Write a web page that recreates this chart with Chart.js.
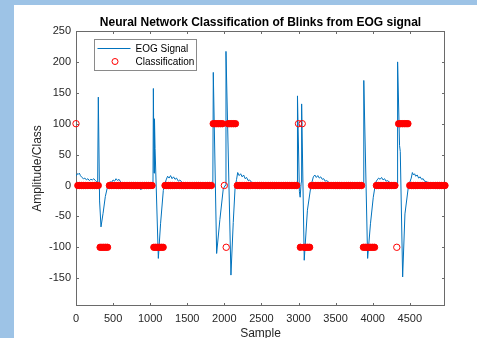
<!DOCTYPE html>
<html><head><meta charset="utf-8">
<script src="https://cdn.jsdelivr.net/npm/chart.js@4/dist/chart.umd.min.js"></script>
<style>
html,body{margin:0;padding:0;background:#9dc3e6;width:477px;height:338px;overflow:hidden}
#wrap{position:absolute;left:14px;top:5px;width:463px;height:333px;background:#fff}
canvas{display:block}
</style></head><body>
<div id="wrap"><canvas id="c" width="463" height="333"></canvas></div>
<script>
const chartTitle = 'Neural Network Classification of Blinks from EOG signal';
const xAxisTitle = 'Sample';
const yAxisTitle = 'Amplitude/Class';
const legendLabels = ['EOG Signal', 'Classification'];
const xTicks = [0, 500, 1000, 1500, 2000, 2500, 3000, 3500, 4000, 4500];
const yTicks = [-150, -100, -50, 0, 50, 100, 150, 200, 250];
const xRange = [0, 4975];
const yRange = [-195, 250];

// EOG signal: sample index and amplitude
const eogSample = [
  0, 15, 30, 45, 60, 80, 100, 120, 140, 160, 180, 200, 220, 240, 260, 280, 292,
  301, 318, 337, 365, 395, 425,
  440, 460, 480, 500, 520, 540, 560, 580, 600, 620, 650, 680, 710, 740, 770, 800, 830, 860, 875, 890, 910, 940, 970, 1000, 1030,
  1038, 1043, 1052, 1058, 1066, 1110, 1140, 1177, 1200,
  1215, 1235, 1255, 1275, 1295, 1315, 1335, 1355, 1380, 1400, 1430, 1460, 1490, 1520, 1560, 1600, 1640, 1680, 1720, 1760, 1800, 1835,
  1845, 1851, 1896, 1940, 1985, 2010, 2022, 2089, 2120, 2145, 2165,
  2180, 2200, 2220, 2240, 2260, 2280, 2300, 2320, 2340, 2370, 2400, 2440, 2480, 2520, 2560, 2600, 2640, 2680, 2720, 2760, 2800, 2840, 2880, 2920, 2960, 2980,
  2984, 2988, 3012, 3022, 3036, 3042, 3077, 3120, 3168,
  3185, 3200, 3220, 3240, 3260, 3280, 3300, 3320, 3340, 3360, 3380, 3410, 3440, 3480, 3520, 3560, 3600, 3640, 3680, 3720, 3760, 3800, 3840, 3872,
  3878, 3882, 3932, 3970, 4008, 4040,
  4060, 4080, 4100, 4120, 4140, 4160, 4180, 4200, 4230, 4260, 4290, 4320, 4332,
  4336, 4362, 4372, 4404, 4435, 4480,
  4500, 4520, 4535, 4550, 4565, 4580, 4600, 4620, 4640, 4660, 4680, 4700, 4730, 4760, 4800, 4840, 4880, 4920, 4950, 4975
];
const eogValue = [
  15, 19, 18, 20, 16, 13, 11, 12, 9, 11, 8, 10, 9, 11, 8, 6, 5,
  143, -25, -67, -45, -18, -2,
  3, 6, 5, 9, 7, 11, 8, 10, 6, 4, 2, 3, 1, 2, 0, 3, 1, -2, -7, -3, 1, 0, 2, 1, 3,
  4, 157, 20, 108, 60, -118, -62, -8, 3,
  9, 15, 12, 16, 11, 14, 10, 12, 7, 9, 5, 4, 3, 2, 1, 3, 0, 2, -1, 1, 2, 0,
  2, 183, -110, -55, -6, 0, 217, -145, -60, -3, 10,
  21, 16, 19, 14, 17, 11, 13, 8, 9, 5, 4, 2, 0, -3, -1, -4, -2, -5, -1, -3, 0, -2, 1, -1, 0, -3,
  1, 145, -10, -19, 5, 132, -121, -40, 0,
  7, 14, 17, 13, 16, 12, 14, 10, 11, 7, 8, 5, 1, 2, 0, 1, -1, 2, 0, 1, -1, 2, 0, 1,
  2, 170, -118, -62, -19, 5,
  9, 12, 10, 13, 9, 11, 7, 8, 5, 3, 2, 1, 0,
  200, 65, 55, -148, -46, -3,
  5, 12, 21, 17, 19, 15, 17, 12, 14, 10, 11, 7, 6, 4, 3, 1, 2, 0, 1, 0
];

// Classification output, one value every classStep samples
const classStep = 25;
const classValues = [
  100,
  0, 0, 0, 0, 0, 0, 0, 0, 0, 0, 0, 0,
  -100, -100, -100, -100, -100,
  0, 0, 0, 0, 0, 0, 0, 0, 0, 0, 0, 0, 0, 0, 0, 0, 0, 0, 0, 0, 0, 0, 0, 0,
  -100, -100, -100, -100, -100, -100,
  0, 0, 0, 0, 0, 0, 0, 0, 0, 0, 0, 0, 0, 0, 0, 0, 0, 0, 0, 0, 0, 0, 0, 0, 0, 0,
  100, 100, 100, 100, 100, 100,
  0,
  -100,
  100, 100, 100, 100, 100,
  0, 0, 0, 0, 0, 0, 0, 0, 0, 0, 0, 0, 0, 0, 0, 0, 0, 0, 0, 0, 0, 0, 0, 0, 0, 0, 0, 0, 0, 0, 0, 0, 0,
  100,
  -100,
  100,
  -100, -100, -100, -100,
  0, 0, 0, 0, 0, 0, 0, 0, 0, 0, 0, 0, 0, 0, 0, 0, 0, 0, 0, 0, 0, 0, 0, 0, 0, 0, 0, 0,
  -100, -100, -100, -100, -100, -100, -100,
  0, 0, 0, 0, 0, 0, 0, 0, 0, 0, 0,
  -100,
  100, 100, 100, 100, 100, 100,
  0, 0, 0, 0, 0, 0, 0, 0, 0, 0, 0, 0, 0, 0, 0, 0, 0, 0, 0, 0
];

const FONT = "'Liberation Sans', Arial, sans-serif";
const lineColor = '#0072BD';
const markColor = '#ff0000';
const boxColor = '#6a6a6a';
Chart.defaults.font.family = FONT;

const eogData = eogSample.map((s, i) => ({x: s, y: eogValue[i]}));
const classData = classValues.map((v, i) => ({x: i * classStep, y: v}));

// a marker is drawn solid when it belongs to a run of equal classes
function inRun(i) {
  const v = classValues[i];
  if (classValues[i - 1] === v || classValues[i + 1] === v) return true;
  if (classValues[i + 2] === v && classValues[i + 3] === v) return true;
  if (classValues[i - 2] === v && classValues[i - 3] === v) return true;
  return false;
}

const matlabAxes = {
  id: 'matlabAxes',
  beforeDatasetsDraw(chart) {
    const {ctx, chartArea: a, scales: {x, y}} = chart;
    ctx.save();
    ctx.strokeStyle = boxColor;
    ctx.lineWidth = 1;
    ctx.strokeRect(Math.round(a.left) + 0.5, Math.round(a.top) + 0.5, Math.round(a.right - a.left) - 1, Math.round(a.bottom - a.top) - 1);
    ctx.beginPath();
    const tl = 3;
    xTicks.forEach(v => {
      const px = Math.round(x.getPixelForValue(v)) + 0.5;
      ctx.moveTo(px, a.bottom); ctx.lineTo(px, a.bottom - tl);
      ctx.moveTo(px, a.top); ctx.lineTo(px, a.top + tl);
    });
    yTicks.forEach(v => {
      const py = Math.round(y.getPixelForValue(v)) + 0.5;
      ctx.moveTo(a.left, py); ctx.lineTo(a.left + tl, py);
      ctx.moveTo(a.right, py); ctx.lineTo(a.right - tl, py);
    });
    ctx.stroke();
    ctx.restore();
  },
  afterDraw(chart) {
    const {ctx, chartArea: a} = chart;
    const bx = Math.round(a.left + 18) + 0.5, by = Math.round(a.top + 8) + 0.5, bw = 102, bh = 31;
    ctx.save();
    ctx.fillStyle = '#ffffff';
    ctx.fillRect(bx, by, bw, bh);
    ctx.strokeStyle = '#8a8a8a';
    ctx.lineWidth = 1;
    ctx.strokeRect(bx, by, bw, bh);
    const r1 = by + 9, r2 = by + 22;
    ctx.strokeStyle = lineColor;
    ctx.beginPath(); ctx.moveTo(bx + 3, r1); ctx.lineTo(bx + 36, r1); ctx.stroke();
    ctx.strokeStyle = markColor;
    ctx.beginPath(); ctx.arc(bx + 20.5, r2, 3, 0, Math.PI * 2); ctx.stroke();
    ctx.fillStyle = '#000';
    ctx.font = '10px ' + FONT;
    ctx.textBaseline = 'middle';
    ctx.textAlign = 'left';
    ctx.fillText(legendLabels[0], bx + 41, r1 + 0.5);
    ctx.fillText(legendLabels[1], bx + 41, r2 + 0.5);
    ctx.restore();
  }
};

new Chart(document.getElementById('c'), {
  type: 'scatter',
  data: {
    datasets: [
      {label: legendLabels[0], data: eogData, showLine: true, pointRadius: 0, borderColor: lineColor, borderWidth: 1, tension: 0, fill: false, order: 2},
      {label: legendLabels[1], data: classData, pointRadius: 3.2, borderWidth: 1, borderColor: markColor,
        backgroundColor: c => inRun(c.dataIndex) ? markColor : 'rgba(0,0,0,0)',
        order: 1, clip: false}
    ]
  },
  options: {
    responsive: false,
    devicePixelRatio: 1,
    animation: false,
    events: [],
    layout: {padding: {left: 0, right: 32, top: 0, bottom: 0}},
    plugins: {
      legend: {display: false},
      tooltip: {enabled: false},
      title: {display: true, text: chartTitle, color: '#000', fullSize: false,
        font: {family: FONT, size: 12, weight: 'bold'}, padding: {top: 10.4, bottom: 1.2}}
    },
    scales: {
      x: {
        type: 'linear', min: xRange[0], max: xRange[1],
        afterBuildTicks: s => { s.ticks = xTicks.map(v => ({value: v})); },
        afterFit: s => { s.height = 32; },
        grid: {display: false, drawTicks: false},
        border: {display: false},
        ticks: {padding: 6, color: '#262626', font: {size: 11}, maxRotation: 0, autoSkip: false, callback: v => String(v)},
        title: {display: true, text: xAxisTitle, color: '#262626', font: {size: 12}, padding: {top: 0, bottom: -2.5}}
      },
      y: {
        type: 'linear', min: yRange[0], max: yRange[1],
        afterBuildTicks: s => { s.ticks = yTicks.map(v => ({value: v})); },
        afterFit: s => { s.width = 62; },
        grid: {display: false, drawTicks: false},
        border: {display: false},
        ticks: {padding: 5, color: '#262626', font: {size: 11}, autoSkip: false, callback: v => String(v)},
        title: {display: true, text: yAxisTitle, color: '#262626', font: {size: 12}, padding: {top: 16, bottom: 0}}
      }
    }
  },
  plugins: [matlabAxes]
});
</script>
</body></html>
